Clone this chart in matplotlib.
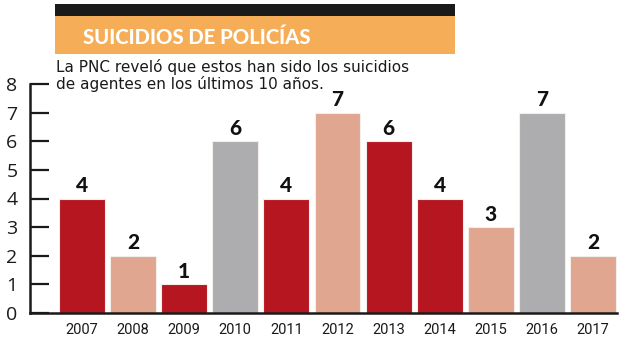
import matplotlib.pyplot as plt
from matplotlib.patches import Rectangle

years = ["2007", "2008", "2009", "2010", "2011", "2012", "2013", "2014", "2015", "2016", "2017"]
suicides = [4, 2, 1, 6, 4, 7, 6, 4, 3, 7, 2]
bar_colors = ["#b5161f", "#e0a690", "#b5161f", "#adadaf", "#b5161f", "#e0a690",
              "#b5161f", "#b5161f", "#e0a690", "#adadaf", "#e0a690"]

title = "SUICIDIOS DE POLICÍAS"
subtitle = "La PNC reveló que estos han sido los suicidios\nde agentes en los últimos 10 años."

W, H = 627, 347
fig = plt.figure(figsize=(W / 100, H / 100), dpi=100)

# header: black strip with orange banner below
fig.add_artist(Rectangle((55 / W, 1 - 16 / H), 400 / W, 12 / H,
                         transform=fig.transFigure, color="#1a1a1a", lw=0))
fig.add_artist(Rectangle((55 / W, 1 - 54 / H), 400 / W, 38 / H,
                         transform=fig.transFigure, color="#f5ad57", lw=0))
fig.text(83 / W, 1 - 37 / H, title, color="white", fontsize=14.6, fontweight="black",
         family="Lato", va="center", ha="left")
fig.text(56 / W, 1 - 59 / H, subtitle, color="#1a1a1a", fontsize=11, va="top",
         ha="left", linespacing=1.05)

ax = fig.add_axes([30 / W, 1 - 313 / H, 587 / W, 229 / H])
x = range(len(years))
bars = ax.bar(x, suicides, width=0.9, color=bar_colors, edgecolor="#f4eeea", linewidth=0.8)
for xi, v in zip(x, suicides):
    ax.text(xi, v + 0.12, str(v), ha="center", va="bottom", fontsize=15,
            fontweight="black", family="Lato", color="#111111")

ax.set_xlim(-1.018, 10.47)
ax.set_ylim(0, 8)
ax.set_yticks(range(0, 9))
ax.set_yticklabels([str(i) for i in range(0, 9)], family="Open Sans", fontsize=14)
ax.tick_params(axis="y", direction="in", length=14, width=1.6, pad=9,
               colors="#1a1a1a")
ax.set_xticks(list(x))
ax.set_xticklabels(years, family="Roboto", fontsize=10.5)
ax.tick_params(axis="x", length=0, pad=7, colors="#1a1a1a")
for s in ["top", "right"]:
    ax.spines[s].set_visible(False)
ax.spines["left"].set_linewidth(1.8)
ax.spines["bottom"].set_linewidth(1.8)
ax.spines["left"].set_color("#1a1a1a")
ax.spines["bottom"].set_color("#1a1a1a")

fig.savefig("out.png", dpi=100)
